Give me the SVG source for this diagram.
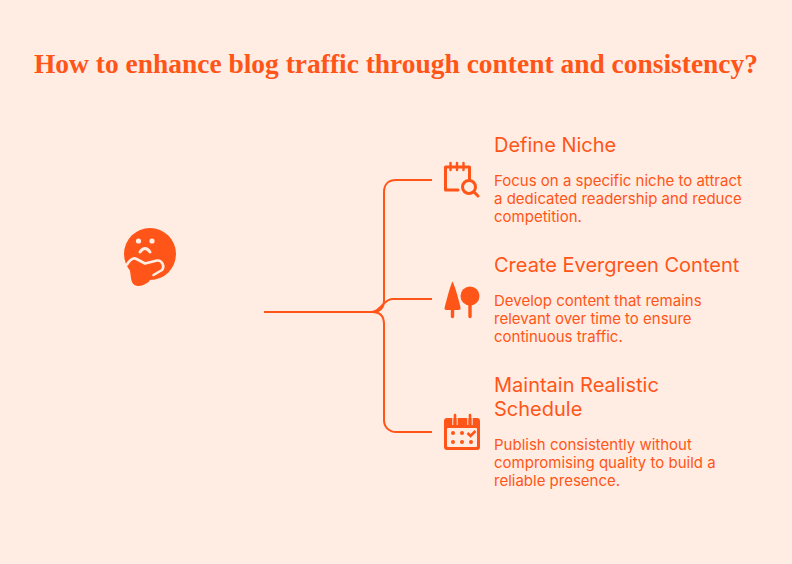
<svg xmlns="http://www.w3.org/2000/svg" width="792" height="564" viewBox="0 0 792 564">
<style>
.t{font-family:"Liberation Serif",serif;font-weight:700;font-size:27.500px;fill:#FF5518}
.h{font-family:Inter,"Liberation Sans",sans-serif;font-size:20px;fill:#FF5518}
.b{font-family:Inter,"Liberation Sans",sans-serif;font-size:15px;fill:#FF5518}
.l{fill:none;stroke:#FF5518;stroke-width:2}
.s{fill:none;stroke:#FF5518;stroke-width:3;stroke-linecap:round;stroke-linejoin:round}
.f{fill:#FF5518}
.w{fill:#FFEDE3}
</style>
<rect width="792" height="564" fill="#FFEDE3"/>
<text id="title" class="t" x="34" y="73" textLength="724" lengthAdjust="spacingAndGlyphs">How to enhance blog traffic through content and consistency?</text>
<g id="connectors">
<path class="l" d="M264 312H372C380 312 384 308 384 300V192C384 184 389 180 396 180H432"/>
<path class="l" d="M372 312C380 312 384 299 392 299H432"/>
<path class="l" d="M372 312C380 312 384 316 384 324V420C384 427 389 432 396 432H432"/>
</g>
<g id="thinker">
<circle class="f" cx="150" cy="254" r="26"/>
<circle class="w" cx="138.500" cy="241" r="2.600"/>
<circle class="w" cx="152" cy="241" r="2.600"/>
<path d="M140 252Q145 245 150 252" fill="none" stroke="#FFEDE3" stroke-width="3" stroke-linecap="round"/>
<path class="f" d="M128 265L134 258L145 264L158 261C163 261 164 268 161 270L153 275C150 277 151 281 147 283C141 287 134 287 132 282C130 276 131 270 128 265Z"/>
<path d="M127 264.500C130 260 133 257 136.500 259L145 263.500L157 260.500C162 260 165 266 162 270L153.500 275" fill="none" stroke="#FFEDE3" stroke-width="2.600" stroke-linecap="round" stroke-linejoin="round"/>
</g>
<g id="define-niche">
<path class="s" d="M469.500 180V167H445.500V190H458"/>
<path class="s" d="M450.500 163V170M457 163V170M463.500 163V170" style="stroke-width:2.400"/>
<circle class="s" cx="469" cy="187" r="6.500"/>
<path class="s" d="M474 192L478 196"/>
<text class="h" x="494" y="152">Define Niche</text>
<text class="b"><tspan x="494" y="186">Focus on a specific niche to attract</tspan><tspan x="494" y="204">a dedicated readership and reduce</tspan><tspan x="494" y="222">competition.</tspan></text>
</g>
<g id="create-evergreen">
<path class="f" d="M452.500 281.500C454 283 461 307 460.500 308.500Q460 310 458 310H447Q444.500 310 444.500 308.500C444.500 307 451 283 452.500 281.500Z"/>
<path class="s" d="M452.500 308V316.500M470 300V316.500" style="stroke-width:3.400"/>
<circle class="f" cx="470" cy="296" r="9.500"/>
<text class="h" x="494" y="272">Create Evergreen Content</text>
<text class="b"><tspan x="494" y="306">Develop content that remains</tspan><tspan x="494" y="324">relevant over time to ensure</tspan><tspan x="494" y="342">continuous traffic.</tspan></text>
</g>
<g id="maintain-schedule">
<rect class="f" x="444" y="418" width="36" height="32" rx="3"/>
<rect class="w" x="447" y="428" width="30" height="19" rx="1"/>
<path d="M455 415V423M470 415V423" fill="none" stroke="#FF5518" stroke-width="2.600" stroke-linecap="round"/>
<path d="M452.800 417V425M457.200 417V425M467.800 417V425M472.200 417V425" fill="none" stroke="#FFEDE3" stroke-width="1"/>
<g class="f"><circle cx="453" cy="433" r="2"/><circle cx="462" cy="433" r="2"/><circle cx="453" cy="442" r="2"/><circle cx="462" cy="442" r="2"/><circle cx="471" cy="442" r="2"/></g>
<path d="M467.500 433L470.500 436L475.500 431" fill="none" stroke="#FF5518" stroke-width="2.600"/>
<text class="h"><tspan x="494" y="392">Maintain Realistic</tspan><tspan x="494" y="416">Schedule</tspan></text>
<text class="b"><tspan x="494" y="450">Publish consistently without</tspan><tspan x="494" y="468">compromising quality to build a</tspan><tspan x="494" y="486">reliable presence.</tspan></text>
</g>
</svg>
